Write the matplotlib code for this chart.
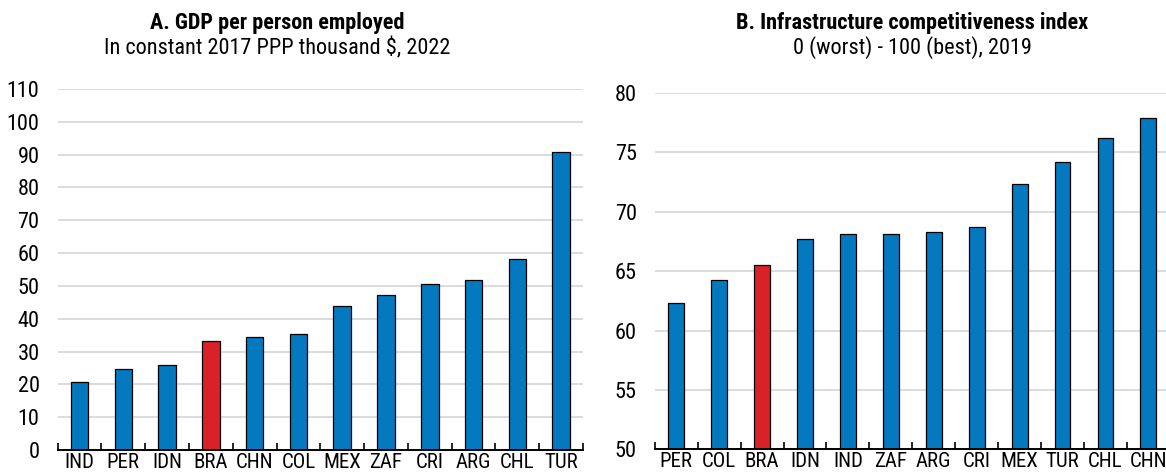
import numpy as np
import matplotlib
matplotlib.use("Agg")
import matplotlib.pyplot as plt
from matplotlib import font_manager

# шрифт: узкий, как Arial Narrow; нужен и жирный вариант
fonts = font_manager.fontManager.ttflist
narrow = ["Nimbus Sans Narrow", "Liberation Sans Narrow", "Arial Narrow", "Archivo Narrow",
          "Roboto Condensed", "PT Sans Narrow", "Fira Sans Condensed", "Pragati Narrow",
          "Liberation Sans"]


def has_bold(name):
    ws = [f.weight for f in fonts if f.name == name and f.style == "normal"]
    ws = [w if isinstance(w, int) else font_manager.weight_dict.get(w, 400) for w in ws]
    return any(w <= 400 for w in ws) and any(w >= 700 for w in ws)


font = next((n for n in narrow if has_bold(n)), "DejaVu Sans")
plt.rcParams["font.family"] = [font, "DejaVu Sans"]

BLUE = "#0579BF"
RED = "#DA2128"
GRID = "#D9D9D9"

# панель A
gdp_countries = ["IND", "PER", "IDN", "BRA", "CHN", "COL", "MEX", "ZAF", "CRI", "ARG", "CHL", "TUR"]
gdp_values = [20.6, 24.8, 25.8, 33.1, 34.4, 35.2, 44.0, 47.3, 50.7, 51.8, 58.2, 90.8]
gdp_ticks = list(range(0, 111, 10))

# панель B
infra_countries = ["PER", "COL", "BRA", "IDN", "IND", "ZAF", "ARG", "CRI", "MEX", "TUR", "CHL", "CHN"]
infra_values = [62.3, 64.3, 65.5, 67.7, 68.1, 68.1, 68.3, 68.7, 72.35, 74.2, 76.25, 77.9]
infra_ticks = list(range(50, 81, 5))

fig = plt.figure(figsize=(11.66, 4.75), dpi=100)
ax1 = fig.add_axes([0.0494, 0.0526, 0.4506, 0.76])
ax2 = fig.add_axes([0.5616, 0.0537, 0.4417, 0.7505])


def draw(ax, cats, vals, ticks, width):
    x = np.arange(len(cats))
    colors = [RED if c == "BRA" else BLUE for c in cats]
    ax.bar(x, [v - ticks[0] for v in vals], bottom=ticks[0], width=width,
           color=colors, edgecolor="black", linewidth=0.9, zorder=3)
    ax.set_xlim(-0.5, len(cats) - 0.5)
    ax.set_ylim(ticks[0], ticks[-1])
    ax.set_yticks(ticks)
    ax.set_xticks(x)
    ax.set_xticklabels(cats)
    ax.set_xticks(np.arange(-0.5, len(cats), 1), minor=True)
    ax.tick_params(axis="x", which="major", length=0, pad=2, labelsize=15)
    ax.tick_params(axis="x", which="minor", direction="in", length=5, width=1.2)
    ax.tick_params(axis="y", length=0, pad=13, labelsize=16)
    for t in ticks[1:]:
        ax.axhline(t, color=GRID, linewidth=1.3, zorder=1)
    for s in ["top", "right", "left"]:
        ax.spines[s].set_visible(False)
    ax.spines["bottom"].set_linewidth(1.4)
    ax.spines["bottom"].set_zorder(4)


draw(ax1, gdp_countries, gdp_values, gdp_ticks, 0.4)
draw(ax2, infra_countries, infra_values, infra_ticks, 0.37)

fig.text(277 / 1166, 1 - 23 / 475, "A. GDP per person employed", ha="center", va="center",
         fontsize=16, fontweight="bold")
fig.text(277 / 1166, 1 - 48 / 475, "In constant 2017 PPP thousand $, 2022", ha="center", va="center",
         fontsize=16)
fig.text(912 / 1166, 1 - 23 / 475, "B. Infrastructure competitiveness index", ha="center", va="center",
         fontsize=16, fontweight="bold")
fig.text(912 / 1166, 1 - 48 / 475, "0 (worst) - 100 (best), 2019", ha="center", va="center",
         fontsize=16)

fig.savefig("out.png", dpi=100)
